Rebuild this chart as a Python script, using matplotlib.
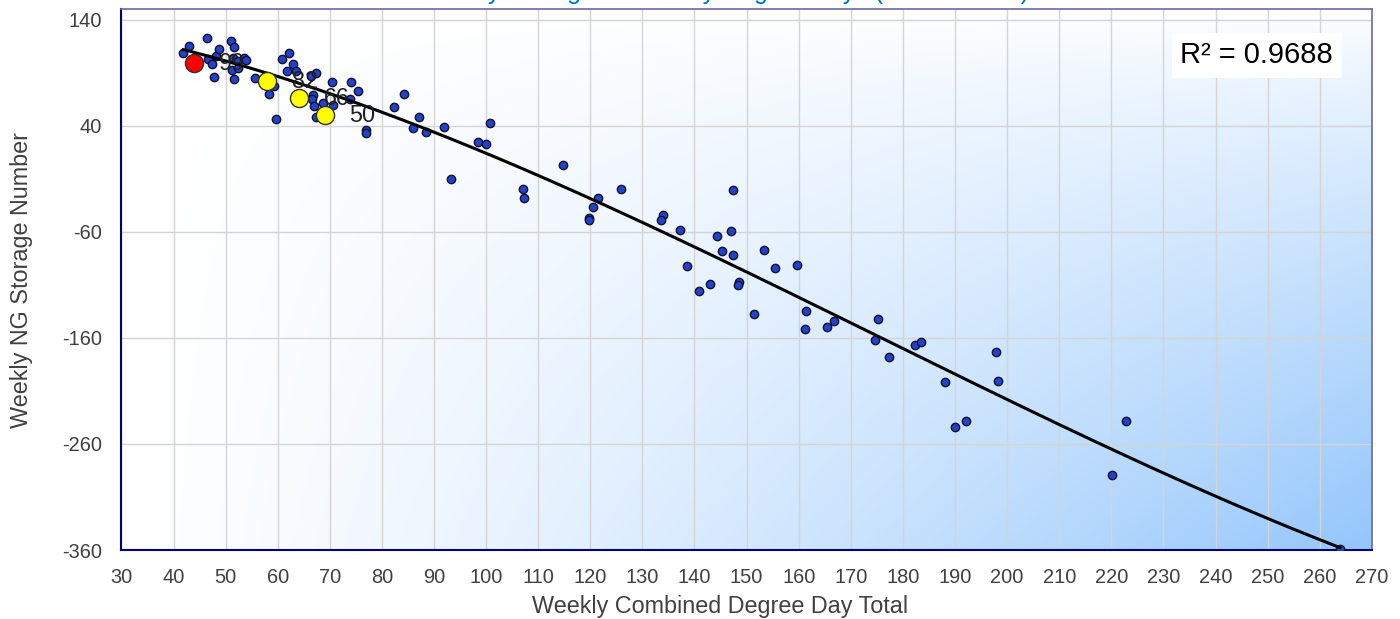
import numpy as np
import matplotlib
matplotlib.use("Agg")
import matplotlib.pyplot as plt
from matplotlib.colors import to_rgb

# ---------------- data ----------------
blue_x = [41.9, 42.9, 46.5, 46.6, 47.3, 48.2, 48.8, 47.8, 51.1, 51.6, 51.5, 52.4, 53.5, 53.9,
          51.3, 51.6, 52.3, 55.7, 58.3, 59.2, 59.6, 60.8, 62.1, 63.0, 61.7, 63.5, 66.4, 67.3,
          66.7, 66.6, 67.0, 67.4, 68.7, 70.7, 70.4, 74.0, 75.5, 73.9, 77.0, 77.0, 82.4, 84.3,
          86.0, 87.2, 88.5, 92.0, 98.5, 99.9, 100.8, 93.2, 114.7, 107.0, 107.3, 125.9, 121.5,
          120.5, 119.8, 119.8, 134.0, 133.5, 137.3, 147.4, 144.4, 147.1, 145.3, 147.3, 138.5,
          140.8, 143.0, 153.4, 155.5, 159.7, 148.6, 148.4, 151.5, 161.4, 161.3, 165.4, 166.7,
          175.2, 174.6, 177.3, 182.3, 183.5, 188.1, 190.0, 192.2, 197.9, 198.3, 222.9, 220.1,
          263.9]
blue_y = [109.1, 115.4, 123.2, 102.8, 98.2, 105.5, 112.3, 86.0, 119.8, 114.2, 103.8, 101.2,
          103.8, 102.2, 92.3, 84.3, 94.4, 84.9, 70.1, 77.8, 46.2, 103.1, 109.1, 98.4, 92.1, 91.8,
          87.1, 89.6, 69.6, 65.1, 59.0, 48.1, 61.9, 59.7, 81.0, 81.1, 73.2, 65.1, 36.2, 32.9,
          58.1, 70.1, 37.8, 48.1, 33.8, 39.2, 25.1, 22.8, 43.0, -10.1, 2.9, -19.2, -28.3, -19.2,
          -28.3, -36.5, -47.1, -48.7, -44.0, -48.7, -58.4, -20.2, -63.4, -59.1, -78.3, -81.5,
          -92.4, -115.4, -109.4, -77.3, -94.3, -91.5, -107.5, -109.8, -137.4, -134.6, -151.8,
          -149.4, -143.7, -141.8, -161.9, -177.7, -166.8, -163.8, -201.8, -244.0, -238.0,
          -173.7, -200.9, -238.3, -289.3, -359.0]

red_x = [44]
red_y = [99]
yellow_x = [58, 64, 69]
yellow_y = [82, 66, 50]

x_ticks = list(range(30, 271, 10))
y_ticks = [-360, -260, -160, -60, 40, 140]
r2_text = "R\u00b2 = 0.9688"
title_text = "Weekly Storage vs Weekly Degree Days (Last 2 Years)"
x_label = "Weekly Combined Degree Day Total"
y_label = "Weekly NG Storage Number"

# ---------------- figure ----------------
plt.rcParams['font.family'] = ['Liberation Sans', 'DejaVu Sans']
plt.rcParams['axes.unicode_minus'] = False
W, H = 1400, 619
fig = plt.figure(figsize=(W / 100, H / 100), dpi=100)
L, R, T, B = 121.4, 1371.8, 9.3, 550.0
ax = fig.add_axes([L / W, 1 - B / H, (R - L) / W, (B - T) / H])
ax.set_xlim(30, 270)
ax.set_ylim(-360, 150)

# gradient background
nx, ny = 400, 200
xf = np.linspace(0, 1, nx)[None, :]
yf = np.linspace(0, 1, ny)[:, None]  # 0 top, 1 bottom
t = np.clip((xf ** 1.3) * (yf ** 0.8), 0, 1)
c0 = np.array(to_rgb("#FFFFFF"))
c1 = np.array(to_rgb("#94C6FC"))
img = c0[None, None, :] * (1 - t[..., None]) + c1[None, None, :] * t[..., None]
ax.imshow(img, extent=[30, 270, -360, 150], aspect='auto', zorder=0, origin='upper',
          interpolation='bilinear')

ax.set_xticks(x_ticks)
ax.set_yticks(y_ticks)
ax.grid(True, color="#D4D4D4", linewidth=1.0, zorder=1)
ax.set_axisbelow(True)
ax.tick_params(axis='both', length=0, labelsize=14.4, labelcolor="#404040")
ax.tick_params(axis='x', pad=13)
ax.tick_params(axis='y', pad=14)

for side in ['left', 'bottom']:
    ax.spines[side].set_color("#000080")
    ax.spines[side].set_linewidth(1.5)
for side in ['top', 'right']:
    ax.spines[side].set_color("#6868A8")
    ax.spines[side].set_linewidth(1.2)

# trendline (polynomial fit of the blue series)
bx = np.array(blue_x)
by = np.array(blue_y)
coef = np.polyfit(bx, by, 3)
xs = np.linspace(bx.min(), bx.max(), 300)
ax.plot(xs, np.polyval(coef, xs), color="black", linewidth=2.2, zorder=4)

ax.scatter(blue_x, blue_y, s=36, color="#2442C8", edgecolor="#101030", linewidth=1.0, zorder=3)
ax.scatter(yellow_x, yellow_y, s=170, color="#FFFF00", edgecolor="#303030", linewidth=1.0, zorder=5)
ax.scatter(red_x, red_y, s=170, color="#FF0000", edgecolor="#303030", linewidth=1.0, zorder=5)

for xv, yv in zip(red_x + yellow_x, red_y + yellow_y):
    ax.annotate(f"{yv:.0f}", (xv, yv), xytext=(18, 0), textcoords='offset points',
                ha='left', va='center', fontsize=16.8, color="#202020", zorder=6)

ax.text(0.908, 0.915, r2_text, transform=ax.transAxes, ha='center', va='center',
        fontsize=21, color="#000000", zorder=7,
        bbox=dict(boxstyle='square,pad=0.3', facecolor='white', edgecolor='none'))

fig.text(720 / W, 1 - 607 / H, x_label, ha='center', va='center', fontsize=16.8, color="#404040")
fig.text(22 / W, 1 - 280 / H, y_label, ha='center', va='center', rotation=90,
         fontsize=16.8, color="#404040")
# title sits mostly above the canvas: only its descenders show, as in the reference
fig.text(724 / W, 1 + 1 / H, title_text, ha='center', va='baseline', fontsize=18,
         color="#0070C0")

fig.savefig("out.png", dpi=100)
